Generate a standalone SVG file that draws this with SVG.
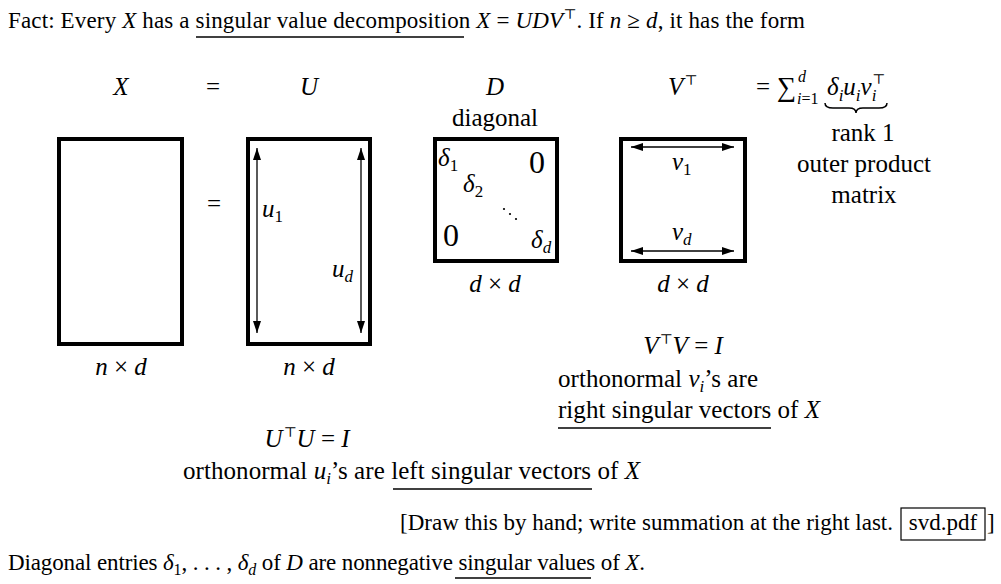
<svg xmlns="http://www.w3.org/2000/svg" width="1001" height="584" viewBox="0 0 1001 584">
<defs>
<style>
text{font-family:"Liberation Serif","DejaVu Serif",serif;font-size:25px;fill:#000}
.hd{font-size:23px}
.i{font-style:italic}
.n{font-style:normal}
.s{font-size:17px}
.hs{font-size:16px}
.t{font-size:14px;font-style:normal}
.box{fill:none;stroke:#000;stroke-width:4}
.ul{stroke:#000;stroke-width:1.5;fill:none}
.arr{stroke:#000;stroke-width:1.3;fill:none;marker-start:url(#ah);marker-end:url(#ah)}
.big{font-size:32px}
</style>
<marker id="ah" viewBox="0 0 12 8" refX="12" refY="4" markerWidth="12" markerHeight="8" markerUnits="userSpaceOnUse" orient="auto-start-reverse">
<path d="M0,0 L12,4 L0,8 Z" fill="#000"/>
</marker>
</defs>
<rect width="1001" height="584" fill="#fff"/>

<g id="header">
<text class="hd" x="8" y="28" textLength="797">Fact: Every <tspan class="i">X</tspan> has a singular value decomposition <tspan class="i">X</tspan> = <tspan class="i">UDV</tspan><tspan class="t" dy="-9">⊤</tspan><tspan dy="9">. If </tspan><tspan class="i">n</tspan> ≥ <tspan class="i">d</tspan>, it has the form</text>
<line class="ul" x1="196" y1="37" x2="464" y2="37"/>
</g>

<g id="labels-row">
<text x="121" y="95" class="i" text-anchor="middle">X</text>
<text x="213" y="95" text-anchor="middle">=</text>
<text x="309" y="95" class="i" text-anchor="middle">U</text>
<text x="495" y="95" class="i" text-anchor="middle">D</text>
<text x="495" y="126" text-anchor="middle">diagonal</text>
<text x="668" y="95" class="i">V<tspan class="t" dx="1" dy="-10">⊤</tspan></text>
</g>

<g id="sum">
<text x="756" y="95">=</text>
<text x="777" y="96" style="font-size:27px">∑</text>
<text x="798" y="82" class="hs i">d</text>
<text x="797" y="104" class="hs"><tspan class="i">i</tspan>=1</text>
<text x="827" y="95" class="i">δ<tspan class="s" dy="6">i</tspan><tspan dy="-6">u</tspan><tspan class="s" dy="6">i</tspan><tspan dy="-6">v</tspan><tspan class="s" dy="6">i</tspan></text>
<text x="872" y="84" class="t">⊤</text>
<path class="ul" d="M825,103 Q825,108 833,108 L849,108 Q856,108 856,113 Q856,108 863,108 L879,108 Q887,108 887,103"/>
</g>

<g id="rank1">
<text x="863" y="141" text-anchor="middle">rank 1</text>
<text x="864" y="172" text-anchor="middle">outer product</text>
<text x="864" y="203" text-anchor="middle">matrix</text>
</g>

<g id="X-matrix">
<rect class="box" x="59" y="139" width="123" height="205"/>
<text x="121" y="375" text-anchor="middle"><tspan class="i">n</tspan> × <tspan class="i">d</tspan></text>
</g>

<g id="eq2"><text x="214" y="212" text-anchor="middle">=</text></g>

<g id="U-matrix">
<rect class="box" x="248" y="139" width="122" height="205"/>
<text x="262" y="217" class="i">u<tspan class="s n" dy="5">1</tspan></text>
<text x="332" y="277" class="i">u<tspan class="s" dy="5">d</tspan></text>
<text x="309" y="375" text-anchor="middle"><tspan class="i">n</tspan> × <tspan class="i">d</tspan></text>
</g>

<g id="D-matrix">
<rect class="box" x="435" y="139" width="122" height="122"/>
<text x="438" y="166" class="i">δ<tspan class="s n" dy="5">1</tspan></text>
<text x="529" y="173" class="big">0</text>
<text x="463" y="192" class="i">δ<tspan class="s n" dy="5">2</tspan></text>
<circle cx="504" cy="209" r="1.1"/>
<circle cx="510" cy="214" r="1.1"/>
<circle cx="516" cy="219" r="1.1"/>
<text x="443" y="246" class="big">0</text>
<text x="531" y="248" class="i">δ<tspan class="s" dy="5">d</tspan></text>
<text x="495" y="292" text-anchor="middle"><tspan class="i">d</tspan> × <tspan class="i">d</tspan></text>
</g>

<g id="V-matrix">
<rect class="box" x="621" y="139" width="124" height="122"/>
<text x="672" y="170" class="i">v<tspan class="s n" dy="5">1</tspan></text>
<text x="672" y="240" class="i">v<tspan class="s" dy="5">d</tspan></text>
<text x="683" y="292" text-anchor="middle"><tspan class="i">d</tspan> × <tspan class="i">d</tspan></text>
</g>

<g id="connectors">
<line class="arr" x1="257" y1="148" x2="257" y2="333"/>
<line class="arr" x1="361" y1="148" x2="361" y2="333"/>
<line class="arr" x1="631" y1="147" x2="734" y2="147"/>
<line class="arr" x1="631" y1="251" x2="734" y2="251"/>
</g>

<g id="V-note">
<text x="683" y="354" text-anchor="middle"><tspan class="i">V</tspan><tspan class="t" dx="1" dy="-10">⊤</tspan><tspan class="i" dy="10">V</tspan> = <tspan class="i">I</tspan></text>
<text x="558" y="387" textLength="200">orthonormal <tspan class="i">v</tspan><tspan class="s i" dy="5">i</tspan><tspan dy="-5">’s are</tspan></text>
<text x="558" y="418" textLength="262">right singular vectors of <tspan class="i">X</tspan></text>
<line class="ul" x1="558" y1="428" x2="771" y2="428"/>
</g>

<g id="U-note">
<text x="307" y="447" text-anchor="middle"><tspan class="i">U</tspan><tspan class="t" dx="1" dy="-10">⊤</tspan><tspan class="i" dy="10">U</tspan> = <tspan class="i">I</tspan></text>
<text x="183" y="479" textLength="457">orthonormal <tspan class="i">u</tspan><tspan class="s i" dy="5">i</tspan><tspan dy="-5">’s are left singular vectors of </tspan><tspan class="i">X</tspan></text>
<line class="ul" x1="393" y1="489" x2="592" y2="489"/>
</g>

<g id="footer">
<text class="hd" x="400" y="530" textLength="493">[Draw this by hand; write summation at the right last.</text>
<rect x="901" y="508" width="84" height="32" fill="none" stroke="#000" stroke-width="1.2"/>
<text class="hd" x="943" y="530" text-anchor="middle">svd.pdf</text>
<text class="hd" x="987" y="530">]</text>
<text class="hd" x="8" y="570" textLength="637">Diagonal entries <tspan class="i">δ</tspan><tspan class="hs" dy="5">1</tspan><tspan dy="-5">, . . . , </tspan><tspan class="i">δ</tspan><tspan class="hs i" dy="5">d</tspan><tspan dy="-5"> of </tspan><tspan class="i">D</tspan> are nonnegative singular values of <tspan class="i">X</tspan>.</text>
<line class="ul" x1="455" y1="578" x2="591" y2="578"/>
</g>
</svg>
